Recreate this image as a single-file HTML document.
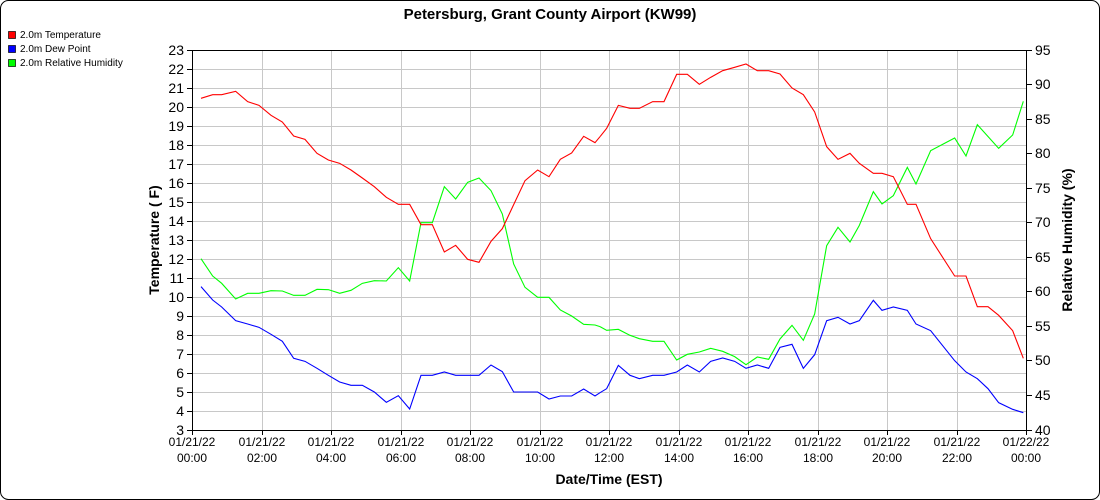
<!DOCTYPE html>
<html><head><meta charset="utf-8"><style>
html,body{margin:0;padding:0;background:#fff;}
svg{display:block;font-family:"Liberation Sans",Arial,sans-serif;}
</style></head><body>
<svg width="1100" height="500" viewBox="0 0 1100 500">
<rect x="0.5" y="0.5" width="1099" height="499" rx="8" fill="#fff" stroke="#000" stroke-width="1"/>
<text x="550" y="19" text-anchor="middle" font-size="15" font-weight="bold">Petersburg, Grant County Airport (KW99)</text>
<rect x="8.5" y="31.5" width="7" height="7" fill="#f00" stroke="#000" stroke-width="0.7"/>
<text x="20" y="38" font-size="10">2.0m Temperature</text>
<rect x="8.5" y="45.5" width="7" height="7" fill="#00f" stroke="#000" stroke-width="0.7"/>
<text x="20" y="52" font-size="10">2.0m Dew Point</text>
<rect x="8.5" y="59.5" width="7" height="7" fill="#0f0" stroke="#000" stroke-width="0.7"/>
<text x="20" y="66" font-size="10">2.0m Relative Humidity</text>
<g stroke="#c8c8c8" stroke-width="1">
<line x1="192" x2="1026" y1="69.5" y2="69.5"/><line x1="192" x2="1026" y1="88.5" y2="88.5"/><line x1="192" x2="1026" y1="107.5" y2="107.5"/><line x1="192" x2="1026" y1="126.5" y2="126.5"/><line x1="192" x2="1026" y1="145.5" y2="145.5"/><line x1="192" x2="1026" y1="164.5" y2="164.5"/><line x1="192" x2="1026" y1="183.5" y2="183.5"/><line x1="192" x2="1026" y1="202.5" y2="202.5"/><line x1="192" x2="1026" y1="221.5" y2="221.5"/><line x1="192" x2="1026" y1="240.5" y2="240.5"/><line x1="192" x2="1026" y1="259.5" y2="259.5"/><line x1="192" x2="1026" y1="278.5" y2="278.5"/><line x1="192" x2="1026" y1="297.5" y2="297.5"/><line x1="192" x2="1026" y1="316.5" y2="316.5"/><line x1="192" x2="1026" y1="335.5" y2="335.5"/><line x1="192" x2="1026" y1="354.5" y2="354.5"/><line x1="192" x2="1026" y1="373.5" y2="373.5"/><line x1="192" x2="1026" y1="392.5" y2="392.5"/><line x1="192" x2="1026" y1="411.5" y2="411.5"/>
<line y1="50" y2="430" x1="262.5" x2="262.5"/><line y1="50" y2="430" x1="331.5" x2="331.5"/><line y1="50" y2="430" x1="401.5" x2="401.5"/><line y1="50" y2="430" x1="470.5" x2="470.5"/><line y1="50" y2="430" x1="540.5" x2="540.5"/><line y1="50" y2="430" x1="609.5" x2="609.5"/><line y1="50" y2="430" x1="679.5" x2="679.5"/><line y1="50" y2="430" x1="748.5" x2="748.5"/><line y1="50" y2="430" x1="818.5" x2="818.5"/><line y1="50" y2="430" x1="887.5" x2="887.5"/><line y1="50" y2="430" x1="957.5" x2="957.5"/>
</g>
<g stroke="#000" stroke-width="1" fill="none">
<line x1="192.5" y1="50" x2="192.5" y2="431"/>
<line x1="1026.5" y1="50" x2="1026.5" y2="431"/>
<line x1="192" y1="50.5" x2="1027" y2="50.5"/>
<line x1="192" y1="430.5" x2="1027" y2="430.5"/>
<path d="M187 50.5h5M187 69.5h5M187 88.5h5M187 107.5h5M187 126.5h5M187 145.5h5M187 164.5h5M187 183.5h5M187 202.5h5M187 221.5h5M187 240.5h5M187 259.5h5M187 278.5h5M187 297.5h5M187 316.5h5M187 335.5h5M187 354.5h5M187 373.5h5M187 392.5h5M187 411.5h5M187 430.5h5"/>
<path d="M1027 50.5h5M1027 84.5h5M1027 119.5h5M1027 153.5h5M1027 188.5h5M1027 222.5h5M1027 257.5h5M1027 291.5h5M1027 326.5h5M1027 360.5h5M1027 395.5h5M1027 430.5h5"/>
<path d="M192.5 430v5M262.5 430v5M331.5 430v5M401.5 430v5M470.5 430v5M540.5 430v5M609.5 430v5M679.5 430v5M748.5 430v5M818.5 430v5M887.5 430v5M957.5 430v5M1026.5 430v5"/>
</g>
<g font-size="14" text-anchor="end">
<text x="184" y="55">23</text><text x="184" y="74">22</text><text x="184" y="93">21</text><text x="184" y="112">20</text><text x="184" y="131">19</text><text x="184" y="150">18</text><text x="184" y="169">17</text><text x="184" y="188">16</text><text x="184" y="207">15</text><text x="184" y="226">14</text><text x="184" y="245">13</text><text x="184" y="264">12</text><text x="184" y="283">11</text><text x="184" y="302">10</text><text x="184" y="321">9</text><text x="184" y="340">8</text><text x="184" y="359">7</text><text x="184" y="378">6</text><text x="184" y="397">5</text><text x="184" y="416">4</text><text x="184" y="435">3</text>
</g>
<g font-size="14">
<text x="1035" y="55">95</text><text x="1035" y="89">90</text><text x="1035" y="124">85</text><text x="1035" y="158">80</text><text x="1035" y="193">75</text><text x="1035" y="227">70</text><text x="1035" y="262">65</text><text x="1035" y="296">60</text><text x="1035" y="331">55</text><text x="1035" y="365">50</text><text x="1035" y="400">45</text><text x="1035" y="435">40</text>
</g>
<g font-size="12" text-anchor="middle">
<text x="192" y="446">01/21/22</text><text x="192" y="462">00:00</text>
<text x="262" y="446">01/21/22</text><text x="262" y="462">02:00</text>
<text x="331" y="446">01/21/22</text><text x="331" y="462">04:00</text>
<text x="401" y="446">01/21/22</text><text x="401" y="462">06:00</text>
<text x="470" y="446">01/21/22</text><text x="470" y="462">08:00</text>
<text x="540" y="446">01/21/22</text><text x="540" y="462">10:00</text>
<text x="609" y="446">01/21/22</text><text x="609" y="462">12:00</text>
<text x="679" y="446">01/21/22</text><text x="679" y="462">14:00</text>
<text x="748" y="446">01/21/22</text><text x="748" y="462">16:00</text>
<text x="818" y="446">01/21/22</text><text x="818" y="462">18:00</text>
<text x="887" y="446">01/21/22</text><text x="887" y="462">20:00</text>
<text x="957" y="446">01/21/22</text><text x="957" y="462">22:00</text>
<text x="1026" y="446">01/22/22</text><text x="1026" y="462">00:00</text>
</g>
<text x="609" y="484" text-anchor="middle" font-size="14" font-weight="bold">Date/Time (EST)</text>
<text transform="translate(159,240) rotate(-90)" text-anchor="middle" font-size="14" font-weight="bold">Temperature ( F)</text>
<text transform="translate(1072,240) rotate(-90)" text-anchor="middle" font-size="14" font-weight="bold">Relative Humidity (%)</text>
<g transform="translate(185,40) scale(0.33333)" fill="none">
<polyline vector-effect="non-scaling-stroke" stroke-width="1.1" stroke="#0f0" points="48,656 83,708 110,730 152,777 188,760 222,760 258,752 292,753 326,766 360,766 396,748 430,749 464,760 498,751 532,730 568,722 604,723 640,683 674,723 708,548 742,548 778,440 812,477 848,427 882,414 918,452 952,522 986,672 1020,742 1058,772 1092,772 1126,810 1160,828 1196,853 1230,855 1245,860"/>
<polyline vector-effect="non-scaling-stroke" stroke-width="1.1" stroke="#00f" points="48,740 83,780 110,801 152,842 188,852 222,862 258,883 292,904 326,955 360,964 396,985 430,1006 464,1026 498,1036 532,1036 568,1056 604,1087 640,1067 674,1107 708,1006 742,1006 778,996 812,1006 848,1006 882,1006 918,975 952,995 986,1056 1020,1056 1058,1056 1092,1077 1126,1068 1160,1068 1196,1047 1230,1068 1245,1058"/>
<polyline vector-effect="non-scaling-stroke" stroke-width="1.1" stroke="#f00" points="48,175 83,164 110,164 152,154 188,185 222,196 258,226 292,246 326,288 360,298 396,340 430,360 464,370 498,390 532,414 568,440 604,472 640,493 674,493 708,554 742,554 778,636 812,616 848,658 882,667 918,604 952,566 986,494 1020,422 1058,390 1092,410 1126,358 1160,339 1196,289 1230,308 1245,290"/>
</g>
<g transform="translate(600,40) scale(0.33333)" fill="none">
<polyline vector-effect="non-scaling-stroke" stroke-width="1.1" stroke="#0f0" points="0,860 20,871 55,868 90,886 118,896 158,904 192,904 230,960 262,943 298,936 332,925 368,934 404,950 438,974 472,951 506,958 540,897 576,856 610,901 644,822 680,617 714,562 750,606 778,556 820,455 846,492 880,467 922,382 948,432 992,332 1064,294 1098,348 1132,254 1196,325 1238,285 1270,184"/>
<polyline vector-effect="non-scaling-stroke" stroke-width="1.1" stroke="#00f" points="0,1058 20,1046 55,976 90,1006 118,1016 158,1006 192,1006 230,996 262,975 298,996 332,964 368,954 404,964 438,985 472,975 506,985 540,922 576,913 610,985 644,944 680,842 714,832 750,852 778,842 820,781 846,811 880,801 922,811 948,852 992,872 1064,962 1098,996 1132,1016 1164,1046 1196,1088 1238,1108 1270,1118"/>
<polyline vector-effect="non-scaling-stroke" stroke-width="1.1" stroke="#f00" points="0,290 20,265 55,196 90,205 118,205 158,185 192,185 230,103 262,103 298,133 332,112 368,92 404,82 438,72 472,92 506,92 540,102 576,144 610,164 644,216 680,320 714,358 750,340 778,370 820,400 846,400 880,410 922,493 948,493 992,596 1064,708 1098,708 1132,800 1164,800 1196,826 1238,872 1270,955"/>
</g>
</svg>
</body></html>
